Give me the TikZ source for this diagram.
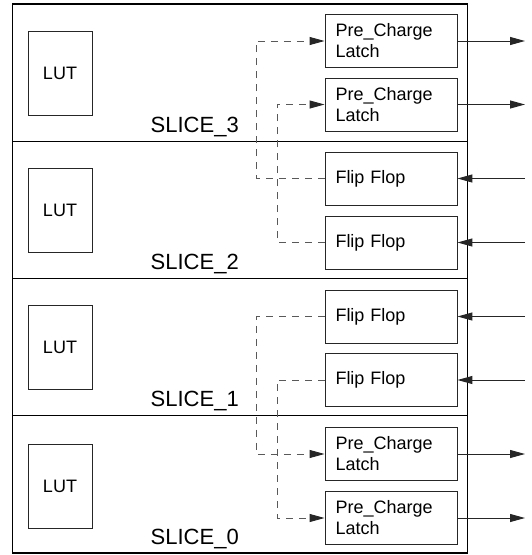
\documentclass[tikz,border=0pt]{standalone}
\usepackage{fontspec}
\setmainfont{Liberation Sans}
\usetikzlibrary{arrows.meta}
\begin{document}
\begin{tikzpicture}[x=1pt,y=-1pt,
  frame/.style={draw=black, line width=1.2pt},
  blk/.style={draw=black!85, line width=0.9pt, minimum width=132pt, minimum height=53pt, text width=111pt, inner xsep=10.5pt, align=left, font=\fontsize{18}{21}\selectfont},
  lut/.style={draw=black!85, line width=0.9pt, minimum width=64pt, minimum height=84pt, font=\fontsize{18}{21}\selectfont},
  slicelbl/.style={anchor=base west, inner sep=0pt, font=\fontsize{22}{26}\selectfont},
  sig/.style={line width=1pt, draw=black!85, -{Triangle[length=15pt,width=8pt]}},
  ctl/.style={line width=0.9pt, draw=black!65, dash pattern=on 7pt off 6pt},
  ctlarrow/.style={ctl, -{Triangle[length=15pt,width=8pt,color=black!85,fill=black!85]}},
]
\useasboundingbox (0,0) rectangle (532,555);
% frame and slice dividers
\draw[frame] (12.5,4) rectangle (467.5,553);
\draw[frame] (12.5,141.5) -- (467.5,141.5);
\draw[frame] (12.5,278.5) -- (467.5,278.5);
\draw[frame] (12.5,415.5) -- (467.5,415.5);
% LUTs
\node[lut] (lut3) at (60,73) {LUT};
\node[lut] (lut2) at (60,210) {LUT};
\node[lut] (lut1) at (60,347) {LUT};
\node[lut] (lut0) at (60,486) {LUT};
% slice labels
\node[slicelbl] (s3) at (150.5,132.3) {SLICE\_3};
\node[slicelbl] (s2) at (150.5,269.3) {SLICE\_2};
\node[slicelbl] (s1) at (150.5,406.5) {SLICE\_1};
\node[slicelbl] (s0) at (150.5,544.3) {SLICE\_0};
% blocks
\node[blk] (pc3a) at (391,41) {Pre\_Charge\\Latch};
\node[blk] (pc3b) at (391,104.5) {Pre\_Charge\\Latch};
\node[blk] (ff2a) at (391,178.5) {Flip Flop};
\node[blk] (ff2b) at (391,242.5) {Flip Flop};
\node[blk] (ff1a) at (391,316.5) {Flip Flop};
\node[blk] (ff1b) at (391,380) {Flip Flop};
\node[blk] (pc0a) at (391,454) {Pre\_Charge\\Latch};
\node[blk] (pc0b) at (391,518) {Pre\_Charge\\Latch};
% free ends
\coordinate (o3a) at (525,41);
\coordinate (o3b) at (525,104.5);
\coordinate (i2a) at (525,178.5);
\coordinate (i2b) at (525,242.5);
\coordinate (i1a) at (525,316.5);
\coordinate (i1b) at (525,380);
\coordinate (o0a) at (525,454);
\coordinate (o0b) at (525,518);
\coordinate (xo) at (256,0);
\coordinate (xi) at (277,0);
% outputs / inputs
\draw[sig] (pc3a.east) -- (o3a);
\draw[sig] (pc3b.east) -- (o3b);
\draw[sig] (i2a) -- (ff2a.east);
\draw[sig] (i2b) -- (ff2b.east);
\draw[sig] (i1a) -- (ff1a.east);
\draw[sig] (i1b) -- (ff1b.east);
\draw[sig] (pc0a.east) -- (o0a);
\draw[sig] (pc0b.east) -- (o0b);
% dashed control lines
\draw[ctlarrow] (ff2a.west) -- (ff2a.west -| xo) |- (pc3a.west);
\draw[ctlarrow] (ff2b.west) -- (ff2b.west -| xi) |- (pc3b.west);
\draw[ctlarrow] (ff1a.west) -- (ff1a.west -| xo) |- (pc0a.west);
\draw[ctlarrow] (ff1b.west) -- (ff1b.west -| xi) |- (pc0b.west);
\end{tikzpicture}
\end{document}
